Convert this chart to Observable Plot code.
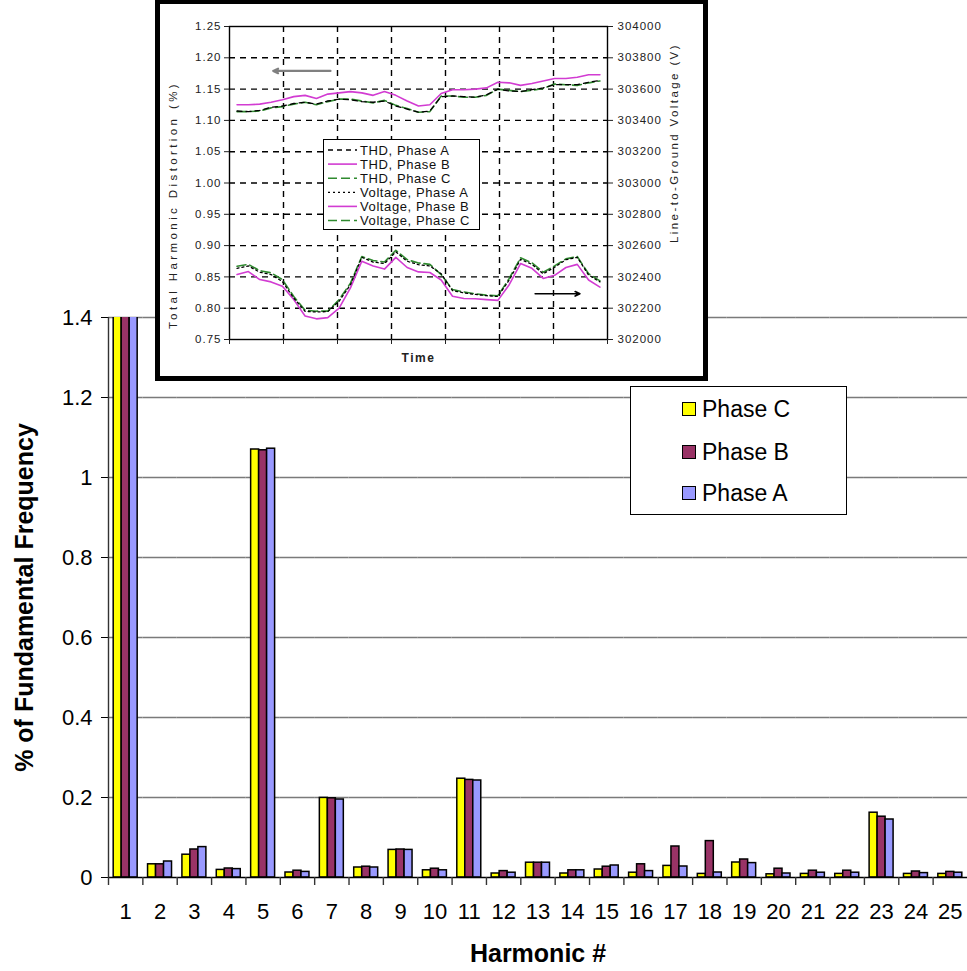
<!DOCTYPE html>
<html>
<head>
<meta charset="utf-8">
<script src="https://cdn.jsdelivr.net/npm/d3@7"></script>
<script src="https://cdn.jsdelivr.net/npm/@observablehq/plot@0.6"></script>
<style>
  body { margin: 0; background: #fff; }
  #wrap { position: relative; width: 967px; height: 971px; overflow: hidden; font-family: "Liberation Sans", Arial, sans-serif; background:#fff; }
  #main { position: absolute; left: 0; top: 0; }
  #main g[aria-label="y-axis label"], #main g[aria-label="fx-axis label"] { font-weight: bold; font-size: 25px; }
  #inset { position: absolute; left: 155px; top: 0; width: 543px; height: 372px; border: 5px solid #000; border-top-width: 4px; background: #fff; }
  #insetLegend { position: absolute; left: 323px; top: 139px; width: 155px; height: 89px; border: 1.5px solid #000; background: #fff; }
  #mainLegend { position: absolute; left: 630px; top: 386px; width: 215px; height: 127px; border: 1px solid #000; background: #fff; }
  .lrow { position: absolute; left: 51px; height: 26px; display: flex; align-items: center; font-size: 23px; color: #000; }
  .sw { width: 12px; height: 12px; border: 1.5px solid #000; margin-right: 6px; }
</style>
</head>
<body>
<div id="wrap">
  <div id="main"></div>
  <div id="inset"></div>
  <div id="insetLegend"></div>
  <div id="mainLegend"></div>
</div>
<script>
// ---------- Main chart data ----------
const harmonics = [1,2,3,4,5,6,7,8,9,10,11,12,13,14,15,16,17,18,19,20,21,22,23,24,25];
const phaseOrder = ["Phase C", "Phase B", "Phase A"];
const phaseColors = ["#ffff00", "#993366", "#9999ff"];
// harmonic 1 is the fundamental (100 %), clipped at the top of the axis
const phaseC = [100, 0.033, 0.057, 0.019, 1.070, 0.0125, 0.199, 0.025, 0.069, 0.018, 0.247, 0.010, 0.037, 0.010, 0.020, 0.012, 0.029, 0.009, 0.0375, 0.008, 0.009, 0.009, 0.162, 0.009, 0.009];
const phaseB = [100, 0.033, 0.070, 0.0225, 1.068, 0.017, 0.198, 0.027, 0.070, 0.022, 0.244, 0.016, 0.037, 0.018, 0.027, 0.033, 0.0775, 0.091, 0.045, 0.022, 0.017, 0.017, 0.152, 0.015, 0.014];
const phaseA = [100, 0.040, 0.076, 0.021, 1.072, 0.014, 0.195, 0.025, 0.069, 0.018, 0.2425, 0.012, 0.037, 0.018, 0.030, 0.016, 0.0275, 0.0125, 0.036, 0.010, 0.012, 0.012, 0.145, 0.011, 0.012];
const yTicks = [0, 0.2, 0.4, 0.6, 0.8, 1, 1.2, 1.4];

// ---------- Inset chart data ----------
const timeSamples = [0.14,0.35,0.56,0.77,0.98,1.19,1.40,1.61,1.82,2.03,2.24,2.45,2.66,2.87,3.08,3.29,3.50,3.71,3.92,4.13,4.34,4.55,4.76,4.97,5.18,5.39,5.60,5.81,6.02,6.23,6.44,6.65,6.86];
const timeTicks = [0,1,2,3,4,5,6,7];
const thdA = [1.115,1.114,1.116,1.121,1.123,1.127,1.129,1.126,1.131,1.134,1.133,1.130,1.129,1.131,1.123,1.118,1.113,1.115,1.138,1.139,1.138,1.137,1.141,1.150,1.147,1.146,1.149,1.152,1.157,1.157,1.157,1.161,1.164];
const thdB = [1.125,1.125,1.126,1.129,1.133,1.138,1.140,1.135,1.142,1.144,1.146,1.144,1.140,1.146,1.140,1.131,1.123,1.125,1.143,1.149,1.149,1.150,1.152,1.161,1.160,1.156,1.159,1.163,1.167,1.167,1.169,1.173,1.173];
const thdC = [1.114,1.114,1.115,1.120,1.122,1.126,1.129,1.125,1.130,1.134,1.134,1.131,1.128,1.132,1.124,1.119,1.113,1.114,1.139,1.139,1.137,1.137,1.140,1.150,1.148,1.146,1.148,1.151,1.158,1.157,1.156,1.160,1.163];
const voltA = [302455,302470,302430,302415,302370,302265,302180,302176,302178,302245,302350,302525,302495,302485,302560,302500,302478,302470,302420,302312,302298,302288,302280,302275,302380,302512,302480,302420,302462,302510,302525,302412,302368];
const voltB = [302415,302434,302383,302368,302340,302255,302150,302132,302140,302200,302330,302500,302470,302450,302525,302460,302432,302428,302380,302276,302262,302260,302255,302250,302350,302485,302455,302390,302410,302460,302480,302380,302335];
const voltC = [302468,302480,302440,302426,302383,302275,302187,302181,302181,302255,302360,302530,302505,302495,302570,302510,302489,302480,302415,302319,302304,302292,302283,302280,302390,302522,302490,302430,302470,302515,302530,302420,302375];
const thdTicks = [0.75,0.80,0.85,0.90,0.95,1.00,1.05,1.10,1.15,1.20,1.25];
const voltTicks = [302000,302200,302400,302600,302800,303000,303200,303400,303600,303800,304000];
const thdDomain = [0.75, 1.25];
const voltDomain = [302000, 304000];
const seriesNames = ["THD, Phase A","THD, Phase B","THD, Phase C","Voltage, Phase A","Voltage, Phase B","Voltage, Phase C"];
const arrowsData = [
  {x1: 1.87, x2: 0.81, y: 1.179, color: "#808080", w: 2.2},
  {x1: 5.66, x2: 6.49, y: 0.823, color: "#000000", w: 1.6}
];
const insetTitles = {left: "Total Harmonic Distortion (%)", right: "Line-to-Ground Voltage (V)", bottom: "Time"};

const FONT = '"Liberation Sans", Arial, sans-serif';
const MAGENTA = "#d23cd2", GREEN = "#2f8a2f";

// ---------- Main chart ----------
const W = 967, H = 971, mL = 108, mR = 0, mT = 317, mB = 94;
const xPadOuter = 0.65;
const facetW = (W - mL - mR) / harmonics.length;
const barStep = facetW / (phaseOrder.length + 2 * xPadOuter);
const edgeDx = -(xPadOuter * barStep + barStep / 2);

const series = [phaseC, phaseB, phaseA];
const bars = harmonics.flatMap((h, i) => phaseOrder.map((p, j) => ({h, phase: p, value: series[j][i]})));

const main = Plot.plot({
  width: W, height: H, marginLeft: mL, marginRight: mR, marginTop: mT, marginBottom: mB,
  style: {fontFamily: FONT, fontSize: "22px", color: "#000", background: "transparent", overflow: "visible"},
  fx: {domain: harmonics, padding: 0, round: false, axis: "bottom", tickSize: 0, tickPadding: 26,
       label: "Harmonic #", labelAnchor: "center", labelOffset: 84, labelArrow: false},
  x: {domain: phaseOrder, paddingInner: 0, paddingOuter: xPadOuter, round: false, axis: null},
  y: {domain: [0, 1.4], ticks: yTicks, tickFormat: d => String(d), tickSize: 7, tickPadding: 9,
      label: "% of Fundamental Frequency", labelAnchor: "center", labelOffset: 93, labelArrow: false},
  color: {domain: phaseOrder, range: phaseColors},
  marks: [
    Plot.gridY(yTicks.filter(d => d > 0), {stroke: "#7a7a7a", strokeOpacity: 1, strokeWidth: 1.4}),
    Plot.barY(bars, {fx: "h", x: "phase", y: "value", fill: "phase", stroke: "#000", strokeWidth: 1.5, clip: true}),
    Plot.ruleY([0], {stroke: "#000", strokeWidth: 1.4}),
    Plot.ruleX(harmonics, {fx: d => d, x: () => phaseOrder[0], dx: edgeDx, y1: -0.02, y2: d => d === 1 ? 1.4 : 0, stroke: "#333", strokeWidth: 1.4})
  ]
});
document.getElementById("main").append(main);

// ---------- Inset chart ----------
const vToY = v => thdDomain[0] + (v - voltDomain[0]) * (thdDomain[1] - thdDomain[0]) / (voltDomain[1] - voltDomain[0]);
const yToV = y => voltDomain[0] + (y - thdDomain[0]) * (voltDomain[1] - voltDomain[0]) / (thdDomain[1] - thdDomain[0]);

const lineRows = [];
const allSeries = [thdA, thdB, thdC, voltA.map(vToY), voltB.map(vToY), voltC.map(vToY)];
allSeries.forEach((arr, k) => arr.forEach((v, i) => lineRows.push({t: timeSamples[i], y: v, s: seriesNames[k]})));
const lineStyles = {
  "THD, Phase A": {stroke: "#000", strokeWidth: 1.3, strokeDasharray: "5,4"},
  "THD, Phase B": {stroke: MAGENTA, strokeWidth: 1.6},
  "THD, Phase C": {stroke: GREEN, strokeWidth: 1.6, strokeDasharray: "9,4"},
  "Voltage, Phase A": {stroke: "#000", strokeWidth: 1.3, strokeDasharray: "2,3"},
  "Voltage, Phase B": {stroke: MAGENTA, strokeWidth: 1.6},
  "Voltage, Phase C": {stroke: GREEN, strokeWidth: 1.6, strokeDasharray: "9,4"}
};
const gridStyle = {stroke: "#000", strokeOpacity: 1, strokeWidth: 1.4, strokeDasharray: "6,5"};

const inset = Plot.plot({
  width: 543, height: 372, marginLeft: 69, marginRight: 96, marginTop: 22, marginBottom: 37,
  style: {fontFamily: FONT, fontSize: "11.5px", letterSpacing: "1px", color: "#222", background: "#fff"},
  x: {domain: [timeTicks[0], timeTicks[timeTicks.length - 1]]},
  y: {domain: thdDomain},
  marks: [
    Plot.gridY(thdTicks.slice(1, -1), gridStyle),
    Plot.gridX(timeTicks.slice(1, -1), gridStyle),
    Plot.frame({stroke: "#000", strokeWidth: 1.4}),
    ...seriesNames.slice().reverse().map(s => Plot.line(lineRows.filter(r => r.s === s), {x: "t", y: "y", ...lineStyles[s]})),
    Plot.arrow(arrowsData, {x1: "x1", x2: "x2", y1: "y", y2: "y", stroke: "color", strokeWidth: "w", headLength: 8, headAngle: 50}),
    Plot.axisY(thdTicks, {anchor: "left", tickFormat: d => d.toFixed(2), tickSize: 5, tickPadding: 3, label: null}),
    Plot.axisY(voltTicks.map(vToY), {anchor: "right", tickFormat: d => String(Math.round(yToV(d))), tickSize: 5, tickPadding: 5, label: null}),
    Plot.axisX(timeTicks, {anchor: "bottom", tickFormat: () => "", tickSize: 5, tickPadding: 0, label: null}),
    Plot.text([insetTitles.left], {text: d => d, frameAnchor: "left", textAnchor: "middle", rotate: -90, dx: -56, dy: 22, fontSize: 11.5, fill: "#222"}),
    Plot.text([insetTitles.right], {text: d => d, frameAnchor: "right", textAnchor: "middle", rotate: -90, dx: 67, dy: -40, fontSize: 11.5, fill: "#222"}),
    Plot.text([insetTitles.bottom], {text: d => d, frameAnchor: "bottom", dy: 22, fontWeight: "bold", fontSize: 12, fill: "#222"})
  ]
});
document.getElementById("inset").append(inset);
const spacing = {[insetTitles.left]: "3.4px", [insetTitles.right]: "2.4px", [insetTitles.bottom]: "1.5px"};
d3.select(inset).selectAll("text").each(function () {
  const s = spacing[this.textContent];
  if (s) this.style.letterSpacing = s;
});

// ---------- Inset legend ----------
const lg = d3.select("#insetLegend").append("svg").attr("width", 155).attr("height", 89)
  .style("font-family", FONT).style("font-size", "13px").style("letter-spacing", "0.6px");
seriesNames.forEach((s, i) => {
  const y = 10 + i * 14.1;
  const st = lineStyles[s];
  lg.append("line").attr("x1", 4).attr("x2", 33).attr("y1", y).attr("y2", y)
    .attr("stroke", st.stroke).attr("stroke-width", st.strokeWidth).attr("stroke-dasharray", st.strokeDasharray || null);
  lg.append("text").attr("x", 36).attr("y", y).attr("dy", "0.36em").attr("fill", "#111").text(s);
});

// ---------- Main legend ----------
const ml = document.getElementById("mainLegend");
phaseOrder.forEach((p, i) => {
  const row = document.createElement("div");
  row.className = "lrow";
  row.style.top = [9, 52, 93][i] + "px";
  const sw = document.createElement("div");
  sw.className = "sw";
  sw.style.background = phaseColors[i];
  const tx = document.createElement("span");
  tx.textContent = p;
  row.append(sw, tx);
  ml.append(row);
});
</script>
</body>
</html>
